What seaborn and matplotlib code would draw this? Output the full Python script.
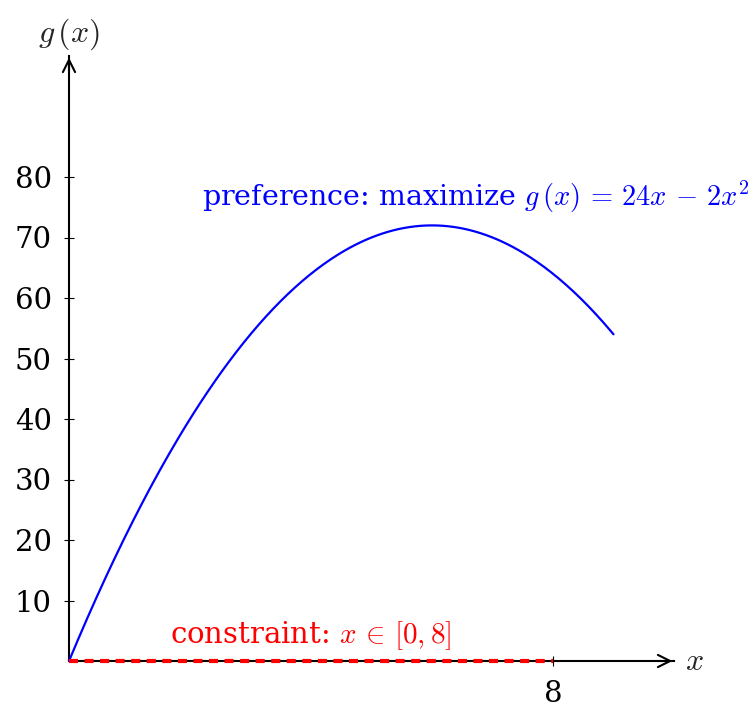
import numpy as np
import pandas as pd
import matplotlib
matplotlib.use("Agg")
import matplotlib.pyplot as plt
import seaborn as sns

sns.set_theme(style="white")
plt.rcParams["font.family"] = ["DejaVu Serif"]
plt.rcParams["mathtext.fontset"] = "cm"
plt.rcParams["lines.scale_dashes"] = False

# objective g(x) = a*x - b*x^2 on the plotted range
coef_a = 24
coef_b = 2
x_start, x_end = 0, 9
constraint = [0, 8]
y_ticks = [10, 20, 30, 40, 50, 60, 70, 80]
x_ticks = [8]
x_axis_max = 10
y_axis_max = 100

xs = np.linspace(x_start, x_end, 300)
curve = pd.DataFrame({"x": xs, "g": coef_a * xs - coef_b * xs ** 2})
feasible = pd.DataFrame({"x": constraint, "g": [0, 0]})

fig = plt.figure(figsize=(7.56, 7.05), dpi=100)
ax = fig.add_axes([0, 0, 1, 1])
ax.set_xlim(-69 / 60.5, (756 - 69) / 60.5)
ax.set_ylim(-(705 - 661) / 6.05, 661 / 6.05)
ax.patch.set_visible(False)

# axes through the origin
for side in ["top", "right"]:
    ax.spines[side].set_visible(False)
ax.spines["left"].set_position(("data", 0))
ax.spines["bottom"].set_position(("data", 0))
ax.spines["left"].set_bounds(0, y_axis_max)
ax.spines["bottom"].set_bounds(0, x_axis_max)
for s in ["left", "bottom"]:
    ax.spines[s].set_linewidth(1.5)
    ax.spines[s].set_color("black")
    ax.spines[s].set_zorder(1)

ax.set_xticks(x_ticks)
ax.set_yticks(y_ticks)
ax.set_xticklabels([str(t) for t in x_ticks])
ax.set_yticklabels([str(t) for t in y_ticks])
ax.tick_params(axis="both", direction="inout", length=7, width=0.8,
               colors="black", labelsize=21)
ax.tick_params(axis="y", pad=9, left=True)
ax.tick_params(axis="x", pad=10, bottom=True)

arrow = dict(arrowstyle="->", lw=1.5, color="black", mutation_scale=22)
ax.annotate("", xy=(x_axis_max + 0.02, 0), xytext=(x_axis_max - 0.3, 0),
            arrowprops=arrow, annotation_clip=False)
ax.annotate("", xy=(0, y_axis_max + 0.2), xytext=(0, y_axis_max - 3),
            arrowprops=arrow, annotation_clip=False)

sns.lineplot(data=curve, x="x", y="g", ax=ax, color="blue", lw=1.6,
             sort=False, zorder=3)
sns.lineplot(data=feasible, x="x", y="g", ax=ax, color="red", lw=3,
             zorder=4)
ax.lines[-1].set_linestyle((0, (6.5, 4.7)))

ax.set_xlabel("")
ax.set_ylabel("")

ax.text(x_axis_max + 0.18, 0, r"$x$", fontsize=23, va="center", ha="left")
ax.text(0, 102.4, r"$g\,(x)$", fontsize=23, va="baseline", ha="center")

ax.text(2.2, 75.2, r"preference: maximize $g\,(x)\,=\,24x\,-\,2x^2$",
        color="blue", fontsize=20.5, ha="left", va="baseline")
ax.text(1.67, 3, r"constraint: $x\,\in\,[0,8]$", color="red",
        fontsize=21, ha="left", va="baseline")

fig.savefig("out.png", dpi=100)
